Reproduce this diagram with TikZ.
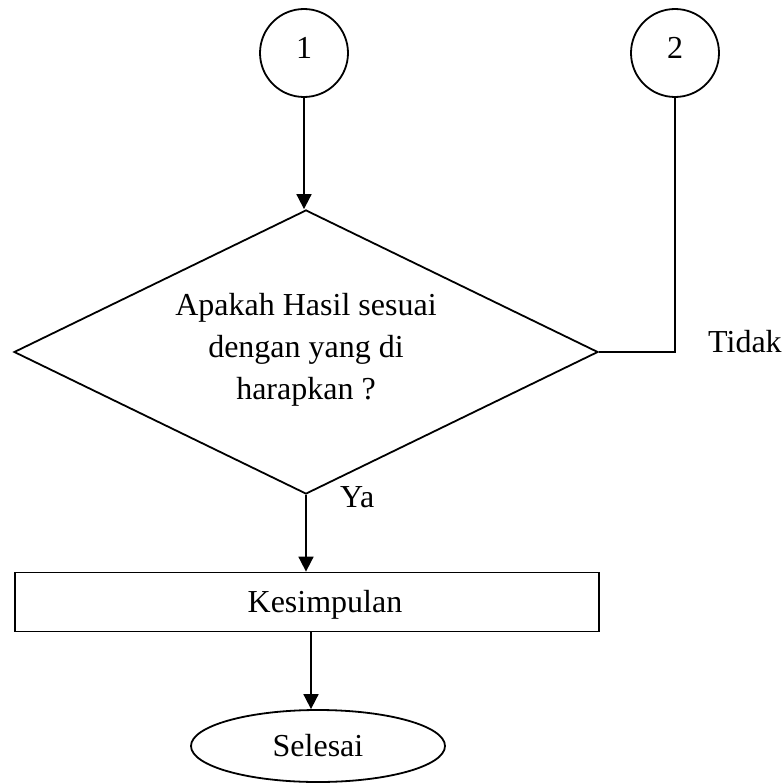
\documentclass[tikz,border=0pt]{standalone}
\usepackage{fontspec}
\setmainfont{Liberation Serif}
\usetikzlibrary{shapes.geometric,arrows.meta}
\begin{document}
\begin{tikzpicture}[x=1pt,y=-1pt,
  every node/.style={font=\fontsize{32}{42}\selectfont},
  ln/.style={line width=1.8pt},
  arr/.style={ln,-{Triangle[length=15pt,width=15pt]}},
  circ/.style={draw,ln,circle,minimum size=88pt,inner sep=0pt,text height=21.6pt,text depth=9.6pt},
  dia/.style={draw,ln,diamond,minimum width=584pt,minimum height=284pt,inner sep=0pt},
  boxnode/.style={draw,ln,rectangle,minimum width=584pt,minimum height=59pt,inner sep=0pt,text height=21.9pt,text depth=0pt},
  ell/.style={draw,ln,ellipse,minimum width=254pt,minimum height=72pt,inner sep=0pt,text height=21.9pt,text depth=0pt},
  lbl/.style={inner sep=0pt}]
\useasboundingbox (0,0) rectangle (784,784);
\fill[white] (0,0) rectangle (784,784);

\node[circ] (c1) at (304,53) {1};
\node[circ] (c2) at (675,53) {2};
\node[dia] (d) at (306,352) {};
\node[lbl,align=center,anchor=north] (q) at (306,293) {Apakah Hasil sesuai\\dengan yang di\\harapkan ?};
\node[boxnode] (k) at (307,602) {\hspace*{36pt}Kesimpulan};
\node[ell] (s) at (318,746) {Selesai};

\node[lbl,anchor=base west] (tidak) at (708,352) {Tidak};
\node[lbl,anchor=base west] (ya) at (340,507) {Ya};

\draw[arr] (c1.south) -- (c1.south |- d.north);
\draw[ln] (c2.south) |- (d.east);
\draw[arr] (d.south) -- (d.south |- k.north);
\draw[arr] ([xshift=4pt]k.south) -- ([xshift=-7pt]s.north);
\end{tikzpicture}
\end{document}
